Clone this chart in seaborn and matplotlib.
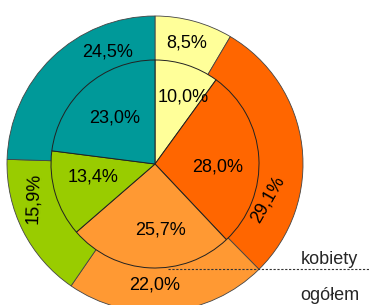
import numpy as np
import pandas as pd
import seaborn as sns
import matplotlib
matplotlib.use("Agg")
import matplotlib.pyplot as plt

sns.set_theme(style="white")
plt.rcParams['font.family'] = ['Liberation Sans', 'DejaVu Sans']

# dane: udzial procentowy, od gory zgodnie z ruchem wskazowek zegara
kategorie = ['A', 'B', 'C', 'D', 'E']
ogolem = [8.5, 29.1, 22.0, 15.9, 24.5]    # pierscien zewnetrzny
kobiety = [10.0, 28.0, 25.7, 13.4, 23.0]  # kolo wewnetrzne
kolory = ['#FFFF99', '#FF6600', '#FF9933', '#99CC00', '#009999']
opisy = ['kobiety', 'ogółem']

# uklad w pikselach obrazka (y liczone od dolu)
W, H = 369, 305
srodek = (155, 141)
r_zew, r_wew = 148, 104
poz_zew = [(187, 262, 0), (268, 106, 60), (155, 20, 0), (34, 107, 88), (108, 253, 0)]
poz_wew = [(183, 208), (218, 138), (160, 75), (93, 128), (115, 187)]

def fmt(v):
    return '{:.1f}%'.format(v).replace('.', ',')

fig = plt.figure(figsize=(W / 100, H / 100), dpi=100)
ax = fig.add_axes([0, 0, 1, 1])

ax.pie(ogolem, colors=kolory, startangle=90, counterclock=False,
       radius=r_zew, center=srodek,
       wedgeprops=dict(edgecolor='#444444', linewidth=0.6))
ax.pie(kobiety, colors=kolory, startangle=90, counterclock=False,
       radius=r_wew, center=srodek,
       wedgeprops=dict(edgecolor='#222222', linewidth=0.7))

for v, (x, y, rot) in zip(ogolem, poz_zew):
    ax.text(x, y, fmt(v), ha='center', va='center', fontsize=13,
            rotation=rot, color='black')
for v, (x, y) in zip(kobiety, poz_wew):
    ax.text(x, y, fmt(v), ha='center', va='center', fontsize=13, color='black')

# linia oddzielajaca opisy
ax.plot([168, W], [36, 36], color='#333333', linestyle=(0, (2, 1.5)), linewidth=0.8)
ax.text(329, 46, opisy[0], ha='center', va='center', fontsize=13)
ax.text(330, 10, opisy[1], ha='center', va='center', fontsize=13)

ax.set_xlim(0, W)
ax.set_ylim(0, H)
ax.set_aspect('equal')
ax.axis('off')

fig.savefig('out.png', dpi=100)
